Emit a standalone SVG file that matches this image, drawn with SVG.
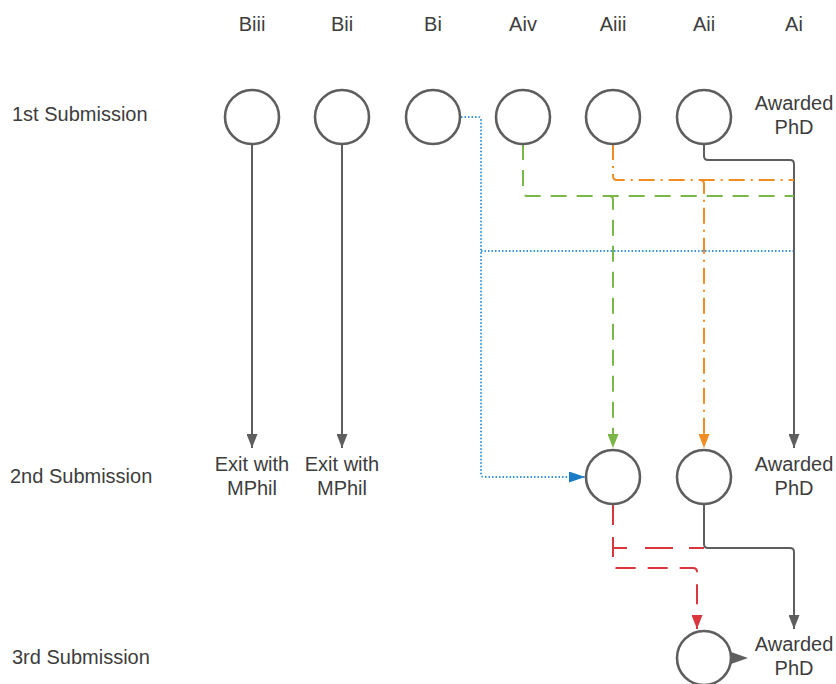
<svg xmlns="http://www.w3.org/2000/svg" width="836" height="684" viewBox="0 0 836 684">
<style>
text{font-family:"Liberation Sans",Arial,sans-serif;font-size:20px;fill:#3d3d3d}
.c{text-anchor:middle}
.node{fill:#fff;stroke:#5e5e5e;stroke-width:2.6}
.g{fill:none;stroke:#5e5e5e;stroke-width:2}
.gr{fill:none;stroke:#7ab648;stroke-width:2;stroke-dasharray:16 10}
.or{fill:none;stroke:#ef8d22;stroke-width:2;stroke-dasharray:16 6 2 6}
.bl{fill:none;stroke:#3a96dd;stroke-width:2;stroke-dasharray:1.5 2}
.rd{fill:none;stroke:#d9363e;stroke-width:2;stroke-dasharray:20 12}
</style>
<defs>
<marker id="ag" viewBox="0 0 10 10" refX="10" refY="5" markerWidth="14" markerHeight="11" markerUnits="userSpaceOnUse" orient="auto" preserveAspectRatio="none"><path d="M0,0 L10,5 L0,10 z" fill="#5e5e5e"/></marker>
<marker id="agr" viewBox="0 0 10 10" refX="10" refY="5" markerWidth="14" markerHeight="11" markerUnits="userSpaceOnUse" orient="auto" preserveAspectRatio="none"><path d="M0,0 L10,5 L0,10 z" fill="#7ab648"/></marker>
<marker id="aor" viewBox="0 0 10 10" refX="10" refY="5" markerWidth="14" markerHeight="11" markerUnits="userSpaceOnUse" orient="auto" preserveAspectRatio="none"><path d="M0,0 L10,5 L0,10 z" fill="#ef8d22"/></marker>
<marker id="abl" viewBox="0 0 10 10" refX="10" refY="5" markerWidth="16" markerHeight="11" markerUnits="userSpaceOnUse" orient="auto" preserveAspectRatio="none"><path d="M0,0 L10,5 L0,10 z" fill="#1a7bc7"/></marker>
<marker id="ard" viewBox="0 0 10 10" refX="10" refY="5" markerWidth="14" markerHeight="11" markerUnits="userSpaceOnUse" orient="auto" preserveAspectRatio="none"><path d="M0,0 L10,5 L0,10 z" fill="#d9363e"/></marker>
</defs>

<g id="headers">
<text class="c" x="252" y="31">Biii</text>
<text class="c" x="342" y="31">Bii</text>
<text class="c" x="433" y="31">Bi</text>
<text class="c" x="523" y="31">Aiv</text>
<text class="c" x="613" y="31">Aiii</text>
<text class="c" x="704" y="31">Aii</text>
<text class="c" x="794" y="31">Ai</text>
</g>
<g id="rowlabels">
<text x="12" y="121">1st Submission</text>
<text x="10" y="483">2nd Submission</text>
<text x="12" y="664">3rd Submission</text>
</g>

<g id="connectors">
<path class="g" d="M252,144 V448" marker-end="url(#ag)"/>
<path class="g" d="M342,144 V448" marker-end="url(#ag)"/>
<path class="bl" d="M461,117 H478 Q481,117 481,120 V474 Q481,477 484,477 H585" marker-end="url(#abl)"/>
<path class="bl" d="M481,251 H793"/>
<path class="g" d="M704,144 V156 Q704,160 708,160 H790 Q794,160 794,164 V448" marker-end="url(#ag)"/>
<path class="or" d="M613,144 V176 Q613,180 617,180 H794"/>
<path class="or" d="M700,180 Q704,180 704,184 V448" marker-end="url(#aor)"/>
<path class="gr" d="M523,144 V192 Q523,196 527,196 H794"/>
<path class="gr" d="M609,196 Q613,196 613,200 V448" marker-end="url(#agr)"/>
<path class="rd" d="M613,505 V564 Q613,568 617,568 H693 Q697,568 697,572 V629" marker-end="url(#ard)"/>
<path class="rd" d="M613,548 H704" style="stroke-dasharray:14 18 28 16 18"/>
<path class="g" d="M704,504 V544 Q704,548 708,548 H790 Q794,548 794,552 V629" marker-end="url(#ag)"/>
<path d="M731,652 L748,658 L731,664 z" fill="#5e5e5e"/>
</g>

<g id="Biii1"><circle class="node" cx="252" cy="117" r="27"/></g>
<g id="Bii1"><circle class="node" cx="342" cy="117" r="27"/></g>
<g id="Bi1"><circle class="node" cx="433" cy="117" r="27"/></g>
<g id="Aiv1"><circle class="node" cx="523" cy="117" r="27"/></g>
<g id="Aiii1"><circle class="node" cx="613" cy="117" r="27"/></g>
<g id="Aii1"><circle class="node" cx="704" cy="117" r="27"/></g>
<g id="Ai1"><text class="c" x="794" y="110">Awarded</text><text class="c" x="794" y="134">PhD</text></g>

<g id="Biii2"><text class="c" x="252" y="471">Exit with</text><text class="c" x="252" y="495">MPhil</text></g>
<g id="Bii2"><text class="c" x="342" y="471">Exit with</text><text class="c" x="342" y="495">MPhil</text></g>
<g id="A2a"><circle class="node" cx="613" cy="477" r="27"/></g>
<g id="A2b"><circle class="node" cx="704" cy="477" r="27"/></g>
<g id="Ai2"><text class="c" x="794" y="471">Awarded</text><text class="c" x="794" y="495">PhD</text></g>

<g id="A3"><circle class="node" cx="704" cy="658" r="27"/></g>
<g id="Ai3"><text class="c" x="794" y="651">Awarded</text><text class="c" x="794" y="675">PhD</text></g>
</svg>
